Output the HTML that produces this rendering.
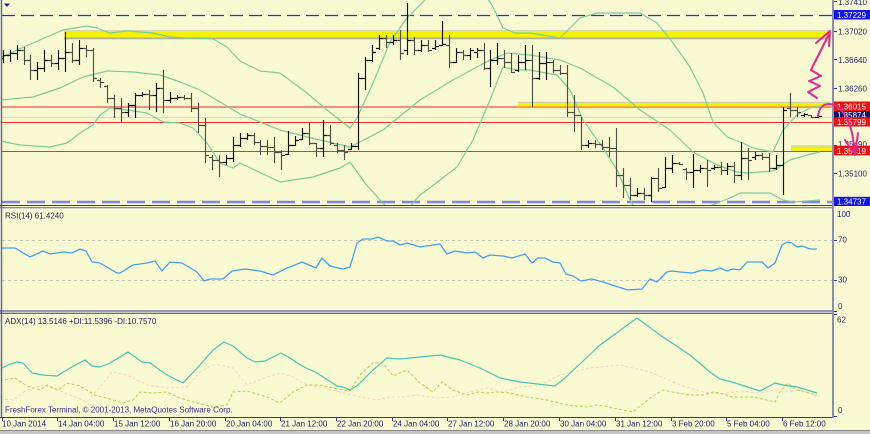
<!DOCTYPE html>
<html>
<head>
<meta charset="utf-8">
<style>
html,body{margin:0;padding:0;background:#fafad2;}
svg{display:block;}
text{font-family:"Liberation Sans",sans-serif;font-size:8px;}
</style>
</head>
<body>
<svg width="870" height="434" viewBox="0 0 870 434" xmlns="http://www.w3.org/2000/svg">
<defs>
<clipPath id="cm"><rect x="2" y="0" width="831" height="205"/></clipPath>
<clipPath id="cr"><rect x="2" y="209" width="831" height="102"/></clipPath>
<clipPath id="ca"><rect x="2" y="314" width="831" height="103"/></clipPath>
</defs>
<rect x="0" y="0" width="870" height="434" fill="#fafad2"/>

<!-- MAIN CHART -->
<g clip-path="url(#cm)">
  <line x1="2" y1="15.5" x2="833" y2="15.5" stroke="#2030e8" stroke-width="1.3" stroke-dasharray="13 6"/>
  <line x1="2" y1="107" x2="833" y2="107" stroke="#f2927e" stroke-width="2"/>
  <line x1="2" y1="117.5" x2="833" y2="117.5" stroke="#d8d8cc" stroke-width="1"/>
  <line x1="2" y1="122.5" x2="833" y2="122.5" stroke="#ff2a2a" stroke-width="1"/>
  <line x1="2" y1="151.5" x2="833" y2="151.5" stroke="#ff2a2a" stroke-width="1"/>
  <line x1="2" y1="202" x2="833" y2="202" stroke="#8484e6" stroke-width="2.5" stroke-dasharray="18 7"/>

  <rect x="64" y="30" width="766" height="1" fill="#d8d8b0"/>
  <rect x="64" y="31" width="766" height="6.3" fill="#f4f400"/>
  <rect x="64" y="37.3" width="766" height="2" fill="#b4b494"/>
  <rect x="518" y="101.7" width="312" height="1.6" fill="#d0d0b0"/>
  <rect x="518" y="103.3" width="312" height="3" fill="#f4f400"/>
  <rect x="518" y="106.3" width="312" height="1.8" fill="#f4a030"/>
  <rect x="791" y="145.5" width="42" height="1.2" fill="#c8c8a8"/>
  <rect x="791" y="146.7" width="42" height="4.3" fill="#f4f400"/>

  <g fill="none" stroke="#7ccc98" stroke-width="1.2" stroke-linejoin="round">
    <polyline points="0,58 17,50 33,43 63,30 87,26 97,28 110,33 127,31 140,32 153,33 170,37 187,38 200,38 213,39 227,47 240,61 260,71 280,73 307,93 327,110 350,128 357,118 373,83 390,42 407,18 420,5 428,-3 486,-3 492,5 503,28 515,33 530,33 560,38 580,18 597,13 640,13 657,23 673,43 690,67 703,93 713,122 727,137 743,143 753,148 773,152 783,130 797,115 810,108 820,106"/>
    <polyline points="0,100 33,97 60,88 83,77 107,71 133,72 160,75 180,82 200,90 220,102 240,114 280,130 307,137 350,147 383,130 420,100 453,80 490,60 507,53 530,55 560,60 580,68 613,87 640,110 670,130 693,152 717,165 737,172 747,173 773,171 790,160 807,155 820,152"/>
    <polyline points="0,141 20,145 50,147 67,143 80,133 93,125 100,115 110,108 127,110 147,113 163,122 180,123 193,128 207,143 220,163 233,168 240,163 280,182 313,177 340,168 350,162 365,183 380,200 392,212 407,210 420,195 427,190 457,167 473,140 490,100 503,67 517,70 530,70 557,75 570,90 583,120 603,148 617,170 630,200 637,212 705,212 712,205 730,198 740,193 770,193 783,200 793,202 820,200"/>
  </g>

  <path fill="none" stroke="#111" stroke-width="1.15" d="M3.5 50V63M0 58.5H3M4 55.5H7M10.5 50V62M7 55.5H10M11 53.5H14M17.5 45V60M14 53.5H17M18 50.5H21M37.5 62V80M34 70.5H37M38 68.5H41M44.5 50V72M41 68.5H44M45 60.5H48M58.5 50V70M55 63.5H58M59 58.5H62M65.5 32V72M62 58.5H65M66 52.5H69M79.5 40V65M76 60.5H79M80 48.5H83M128.5 103V117M125 112.5H128M129 105.5H132M135.5 93V118M132 105.5H135M136 95.5H139M142.5 92V97M139 95.5H142M143 94.5H146M156.5 83V112M153 95.5H156M157 88.5H160M170.5 92V103M167 100.5H170M171 98.5H174M177.5 95V100M174 98.5H177M178 97.5H181M226.5 155V165M223 162.5H226M227 158.5H230M233.5 137V162M230 158.5H233M234 145.5H237M240.5 133V147M237 145.5H240M241 138.5H244M247.5 133V140M244 138.5H247M248 135.5H251M288.5 131V155M285 154.5H288M289 145.5H292M295.5 136V146M292 145.5H295M296 140.5H299M302.5 128V140M299 139.5H302M303 133.5H306M323.5 120V157M320 148.5H323M324 135.5H327M351.5 143V150M348 149.5H351M352 146.5H355M358.5 73V150M355 146.5H358M359 78.5H362M365.5 57V90M362 78.5H365M366 60.5H369M372.5 45V62M369 60.5H372M373 52.5H376M379.5 35V50M376 48.5H379M380 38.5H383M393.5 35V45M390 42.5H393M394 40.5H397M407.5 3V55M404 50.5H407M408 40.5H411M421.5 40V52M418 50.5H421M422 45.5H425M435.5 40V50M432 48.5H435M436 46.5H439M442.5 21V46M439 45.5H442M443 44.5H446M456.5 48V63M453 62.5H456M457 52.5H460M470.5 48V60M467 55.5H470M471 50.5H474M477.5 48V58M474 52.5H477M478 50.5H481M490.5 50V87M487 68.5H490M491 60.5H494M497.5 43V65M494 60.5H497M498 58.5H501M518.5 55V72M515 70.5H518M519 62.5H522M525.5 45V70M522 62.5H525M526 60.5H529M539.5 52V80M536 78.5H539M540 63.5H543M546.5 52V80M543 63.5H546M547 62.5H550M588.5 140V148M585 145.5H588M589 143.5H592M637.5 188V197M634 195.5H637M638 193.5H641M651.5 177V202M648 195.5H651M652 178.5H655M665.5 157V188M662 187.5H665M666 168.5H669M672.5 155V173M669 168.5H672M673 163.5H676M693.5 154V188M690 172.5H693M694 170.5H697M700.5 165V173M697 170.5H700M701 168.5H704M714.5 165V170M711 168.5H714M715 167.5H718M727.5 163V175M724 170.5H727M728 166.5H731M741.5 142V180M738 175.5H741M742 158.5H745M755.5 152V160M752 157.5H755M756 155.5H759M776.5 155V170M773 168.5H776M777 165.5H780M783.5 107V195M780 165.5H783M784 110.5H787M804.5 113V117M801 115.5H804M805 114.5H808M818.5 115V118M815 117.5H818M819 116.5H822"/>
  <path fill="none" stroke="#4e4e44" stroke-width="1.15" d="M24.5 47V65M21 50.5H24M25 60.5H28M30.5 55V80M27 60.5H30M31 70.5H34M51.5 55V67M48 60.5H51M52 63.5H55M72.5 43V63M69 52.5H72M73 60.5H76M86.5 45V57M83 48.5H86M87 50.5H90M93.5 48V82M90 50.5H93M94 78.5H97M100.5 78V88M97 80.5H100M101 82.5H104M107.5 85V103M104 86.5H107M108 98.5H111M114.5 95V118M111 98.5H114M115 108.5H118M121.5 98V122M118 108.5H121M122 112.5H125M149.5 90V110M146 94.5H149M150 95.5H153M163.5 70V113M160 88.5H163M164 100.5H167M184.5 95V100M181 97.5H184M185 98.5H188M191.5 93V112M188 98.5H191M192 108.5H195M198.5 103V133M195 108.5H198M199 125.5H202M205.5 118V163M202 125.5H205M206 155.5H209M212.5 155V170M209 157.5H212M213 160.5H216M219.5 155V177M216 160.5H219M220 162.5H223M254.5 133V145M251 135.5H254M255 142.5H258M260.5 140V155M257 142.5H260M261 146.5H264M267.5 140V155M264 146.5H267M268 147.5H271M274.5 137V163M271 147.5H274M275 152.5H278M281.5 150V170M278 152.5H281M282 155.5H285M309.5 123V145M306 133.5H309M310 143.5H313M316.5 143V157M313 143.5H316M317 148.5H320M330.5 125V145M327 135.5H330M331 143.5H334M337.5 143V153M334 145.5H337M338 150.5H341M344.5 145V160M341 150.5H344M345 152.5H348M386.5 35V48M383 38.5H386M387 42.5H390M400.5 30V60M397 40.5H400M401 53.5H404M414.5 37V55M411 40.5H414M415 50.5H418M428.5 40V52M425 45.5H428M429 50.5H432M449.5 35V68M446 45.5H449M450 62.5H453M463.5 50V60M460 52.5H463M464 55.5H467M484.5 43V70M481 50.5H484M485 68.5H488M504.5 50V68M501 58.5H504M505 62.5H508M511.5 53V73M508 62.5H511M512 72.5H515M532.5 45V107M529 60.5H532M533 78.5H536M553.5 60V73M550 62.5H553M554 70.5H557M560.5 65V75M557 70.5H560M561 73.5H564M567.5 65V117M564 73.5H567M568 112.5H571M574.5 95V132M571 112.5H574M575 115.5H578M581.5 117V150M578 115.5H581M582 145.5H585M595.5 140V148M592 143.5H595M596 144.5H599M602.5 140V150M599 144.5H602M603 147.5H606M609.5 137V157M606 147.5H609M610 148.5H613M616.5 128V187M613 148.5H616M617 175.5H620M623.5 168V198M620 175.5H623M624 185.5H627M630.5 178V200M627 185.5H630M631 195.5H634M644.5 188V200M641 193.5H644M645 195.5H648M658.5 168V192M655 178.5H658M659 188.5H662M679.5 162V165M676 163.5H679M680 164.5H683M686.5 168V180M683 169.5H686M687 172.5H690M707.5 160V187M704 168.5H707M708 170.5H711M721.5 162V175M718 167.5H721M722 170.5H725M734.5 162V183M731 166.5H734M735 175.5H738M748.5 148V180M745 158.5H748M749 160.5H752M762.5 153V160M759 155.5H762M763 157.5H766M769.5 153V172M766 157.5H769M770 168.5H773M790.5 93V117M787 108.5H790M791 110.5H794M797.5 107V117M794 110.5H797M798 112.5H801M811.5 115V118M808 115.5H811M812 117.5H815"/>
</g>
<path d="M4 3.5H10L7 7Z" fill="#20208a"/>

<!-- RSI panel -->
<g clip-path="url(#cr)">
  <line x1="2" y1="240.5" x2="833" y2="240.5" stroke="#c8c8b4" stroke-width="1" stroke-dasharray="3 3"/>
  <line x1="2" y1="280.5" x2="833" y2="280.5" stroke="#c8c8b4" stroke-width="1" stroke-dasharray="3 3"/>
  <polyline fill="none" stroke="#44a0f0" stroke-width="1.3" stroke-linejoin="round" points="0,248 15,248 30,257 43,251 50,254 63,252 72,253 80,249 86,251 92,262 100,263 117,273 120,273 133,265 147,263 155,261 162,271 170,262 182,263 197,272 204,281 210,279 223,279 232,271 245,269 260,271 273,275 287,268 290,267 302,262 316,268 322,258 330,266 343,269 350,267 357,243 363,239 372,239 378,237 387,241 393,241 400,245 407,243 420,247 440,244 447,254 455,251 467,253 475,252 483,258 490,255 503,256 512,258 525,254 532,263 538,258 545,258 553,262 560,263 566,274 573,276 581,281 592,279 603,282 615,286 628,290 642,289 650,279 657,282 667,272 672,271 680,272 692,273 703,270 712,271 720,268 727,271 733,269 740,270 747,262 762,262 768,268 775,263 782,245 787,242 792,243 797,247 802,246 810,249 817,249"/>
</g>

<!-- ADX panel -->
<g clip-path="url(#ca)">
  <polyline fill="none" stroke="#f8d0c0" stroke-width="1" stroke-dasharray="3 2" points="0,399 13,400 27,390 43,385 57,390 73,396 87,402 100,387 112,372 127,375 147,385 167,388 187,387 200,372 212,365 220,365 233,368 247,385 267,377 280,373 293,377 307,385 320,387 340,392 360,397 377,400 390,397 403,397 417,395 437,398 453,397 467,393 477,390 487,388 503,392 520,387 540,385 560,375 590,368 620,365 650,372 680,385 703,392 720,394 740,391 760,393 775,390 787,392 800,390 817,396"/>
  <polyline fill="none" stroke="#acd448" stroke-width="1" stroke-dasharray="3 2" points="0,381 15,378 27,386 40,390 47,385 58,390 67,383 80,386 95,395 110,399 123,403 133,400 140,392 153,393 167,392 180,398 193,402 213,407 227,405 233,392 247,391 267,397 280,403 287,397 293,392 307,385 320,385 333,388 350,391 360,375 373,363 383,363 393,376 407,370 420,383 433,392 442,382 453,390 467,395 478,392 487,393 497,392 510,393 527,397 547,400 567,405 587,407 597,405 613,408 633,412 650,398 663,390 677,393 690,395 703,395 713,392 720,393 733,397 753,397 775,402 780,392 788,383 797,390 817,395"/>
  <polyline fill="none" stroke="#48c4b4" stroke-width="1.2" stroke-linejoin="round" points="0,369 8,365 17,362 23,363 32,373 42,375 57,376 70,368 85,360 92,366 100,367 110,363 128,352 142,362 150,363 167,375 183,383 200,365 213,350 224,342 233,346 247,358 255,362 265,361 281,353 290,358 302,366 317,373 337,386 343,387 350,390 358,385 373,370 387,358 400,359 420,357 440,355 460,360 480,368 500,378 520,382 555,386 565,378 600,345 637,318 660,335 690,355 710,372 720,379 732,382 760,391 775,383 783,385 797,387 817,393"/>
</g>

<!-- panel borders -->
<line x1="1.5" y1="0" x2="1.5" y2="418" stroke="#6464a8" stroke-width="1.5"/>
<line x1="0" y1="205.5" x2="833" y2="205.5" stroke="#34349a" stroke-width="1"/>
<line x1="0" y1="207.8" x2="833" y2="207.8" stroke="#5c5cac" stroke-width="1"/>
<line x1="0" y1="311" x2="833" y2="311" stroke="#34349a" stroke-width="1"/>
<line x1="0" y1="313.3" x2="833" y2="313.3" stroke="#34349a" stroke-width="1"/>
<line x1="0" y1="417.5" x2="834" y2="417.5" stroke="#34349a" stroke-width="1"/>
<line x1="833" y1="0" x2="833" y2="418" stroke="#8c8cb4" stroke-width="2"/>

<path stroke="#34349a" stroke-width="1" d="M2.5 417V421M57.5 417V421M113.5 417V421M169.5 417V421M225.5 417V421M280.5 417V421M336.5 417V421M392.5 417V421M447.5 417V421M503.5 417V421M559.5 417V421M615.5 417V421M671.5 417V421M726.5 417V421M782.5 417V421"/>
<path stroke="#34349a" stroke-width="1" d="M834 1.5H837M834 31.5H837M834 59.5H837M834 88.5H837M834 145.5H837M834 173.5H837M834 240.5H837M834 280.5H837M834 311.5H837M834 314.5H837M834 416.5H837"/>

<g fill="#22226e">
  <text x="838" y="5">1.37410</text>
  <text x="838" y="34.5">1.37020</text>
  <text x="838" y="63">1.36640</text>
  <text x="838" y="91.5">1.36260</text>
  <text x="838" y="147">1.35490</text>
  <text x="838" y="176.5">1.35100</text>
  <text x="837" y="217">100</text>
  <text x="838" y="242.5">70</text>
  <text x="838" y="282.5">30</text>
  <text x="838" y="309">0</text>
  <text x="837" y="322.5">62</text>
  <text x="838" y="413">0</text>
</g>
<rect x="834" y="10" width="36" height="9.5" fill="#1414f0"/>
<text x="837" y="18" fill="#fff">1.37229</text>
<rect x="834" y="101.5" width="36" height="9.5" fill="#f01010"/>
<text x="837" y="109.5" fill="#fff">1.36015</text>
<rect x="834" y="111" width="36" height="7" fill="#10106e"/>
<text x="837" y="118" fill="#fff">1.35874</text>
<rect x="834" y="117.3" width="36" height="9.2" fill="#f01010"/>
<text x="837" y="125" fill="#fff">1.35799</text>
<rect x="834" y="145.7" width="36" height="9.6" fill="#f01010"/>
<text x="837" y="154" fill="#fff">1.35419</text>
<rect x="834" y="196.8" width="36" height="9.2" fill="#1414f0"/>
<text x="837" y="204.5" fill="#fff">1.34737</text>

<g fill="none" stroke="#e4288c" stroke-width="2" stroke-linecap="round" stroke-linejoin="round">
  <path d="M817,98 L808,92 L820,86 L809,81 L821,76 L811,70 L830,32"/>
  <path d="M816,43 L830,31 L829,46"/>
  <path d="M818,116 C819,108 823,104 829,104 C838,104 846,114 850,126 C853,134 854,145 855,154"/>
  <path d="M845,140 L855,155 L858,133"/>
</g>

<text x="5" y="218.5" fill="#22225e">RSI(14) 61.4240</text>
<text x="5" y="324" fill="#22225e">ADX(14) 13.5146 +DI:11.5396 -DI:10.7570</text>
<text x="5" y="412.5" fill="#3c2896">FreshForex Terminal, © 2001-2013, MetaQuotes Software Corp.</text>

<g fill="#22226e">
  <text x="2" y="426.5">10 Jan 2014</text>
  <text x="58" y="426.5">14 Jan 04:00</text>
  <text x="114" y="426.5">15 Jan 12:00</text>
  <text x="170" y="426.5">16 Jan 20:00</text>
  <text x="226" y="426.5">20 Jan 04:00</text>
  <text x="281" y="426.5">21 Jan 12:00</text>
  <text x="337" y="426.5">22 Jan 20:00</text>
  <text x="393" y="426.5">24 Jan 04:00</text>
  <text x="448" y="426.5">27 Jan 12:00</text>
  <text x="504" y="426.5">28 Jan 20:00</text>
  <text x="560" y="426.5">30 Jan 04:00</text>
  <text x="616" y="426.5">31 Jan 12:00</text>
  <text x="672" y="426.5">3 Feb 20:00</text>
  <text x="727" y="426.5">5 Feb 04:00</text>
  <text x="783" y="426.5">6 Feb 12:00</text>
</g>

<rect x="0" y="430" width="870" height="1" fill="#8c8c8c"/>
<rect x="0" y="431" width="870" height="3" fill="#c4c4c0"/>
</svg>
</body>
</html>
